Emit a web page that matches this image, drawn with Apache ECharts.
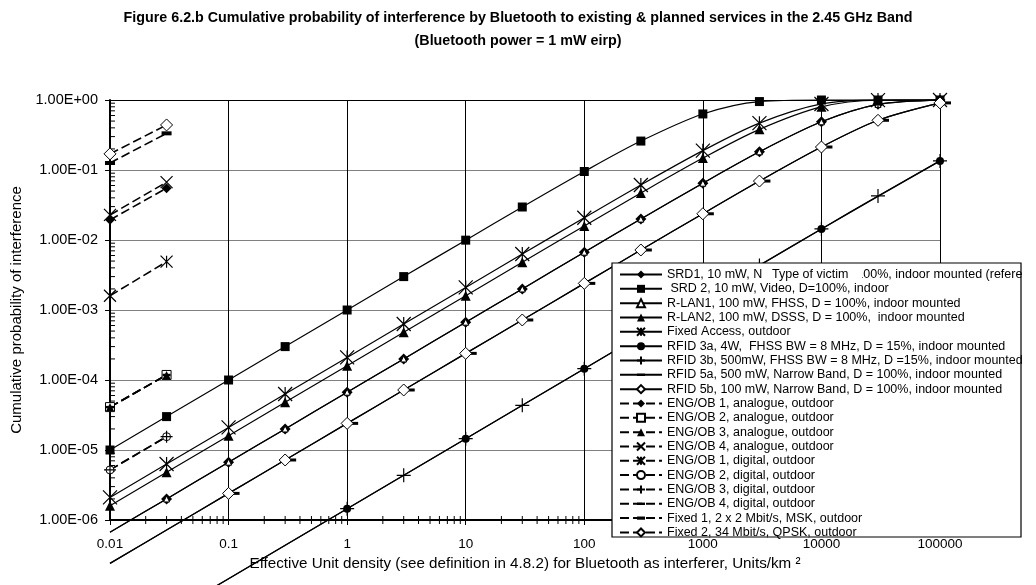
<!DOCTYPE html>
<html>
<head>
<meta charset="utf-8">
<script src="https://cdn.jsdelivr.net/npm/echarts@6/dist/echarts.min.js"></script>
<style>html,body{margin:0;padding:0;background:#fff}#c{width:1036px;height:585px}</style>
</head>
<body>
<div id="c"></div>
<script>
// ---------- data ----------
const titleLine1 = 'Figure 6.2.b Cumulative probability of interference by Bluetooth to existing & planned services in the 2.45 GHz Band';
const titleLine2 = '(Bluetooth power = 1 mW eirp)';
const xAxisName = 'Effective Unit density (see definition in 4.8.2) for Bluetooth as interferer, Units/km \u00B2';
const yAxisName = 'Cumulative probability of interference';
const legendTitle = 'Type of victim';

const xTickLabels = ['0.01', '0.1', '1', '10', '100', '1000', '10000', '100000'];
const yTickLabels = ['1.00E-06', '1.00E-05', '1.00E-04', '1.00E-03', '1.00E-02', '1.00E-01', '1.00E+00'];

const xValues = [0.01, 0.03, 0.1, 0.3, 1, 3, 10, 30, 100, 300, 1000, 3000, 10000, 30000, 100000];
const xDecades = [0.01, 0.1, 1, 10, 100, 1000, 10000, 100000];
const xEng = [0.01, 0.03];

const srd1 = [6.7e-7, 2.0e-6, 6.7e-6, 2.0e-5, 6.7e-5, 2.0e-4, 6.7e-4, 2.0e-3, 6.7e-3, 0.0199, 0.0648, 0.182, 0.488, 0.866, 0.999];
const srd2 = [1.0e-5, 3.0e-5, 1.0e-4, 3.0e-4, 1.0e-3, 3.0e-3, 0.00995, 0.0296, 0.0952, 0.259, 0.632, 0.950, 0.9999, 1.0, 1.0];
const rlan1 = [6.7e-7, 2.0e-6, 6.7e-6, 2.0e-5, 6.7e-5, 2.0e-4, 6.7e-4, 2.0e-3, 6.7e-3, 0.0199, 0.0648, 0.182, 0.488, 0.866, 0.999];
const rlan2 = [1.6e-6, 4.8e-6, 1.6e-5, 4.8e-5, 1.6e-4, 4.8e-4, 1.6e-3, 4.8e-3, 0.0159, 0.0469, 0.148, 0.381, 0.798, 0.992, 1.0];
const fixedAccess = [2.1e-6, 6.3e-6, 2.1e-5, 6.3e-5, 2.1e-4, 6.3e-4, 2.1e-3, 6.3e-3, 0.0208, 0.0611, 0.189, 0.467, 0.878, 0.998, 1.0];
const rfid3a = [1.45e-8, 1.45e-7, 1.45e-6, 1.45e-5, 1.45e-4, 1.45e-3, 0.0144, 0.135];
const rfid3b = [1.45e-8, 4.35e-8, 1.45e-7, 4.35e-7, 1.45e-6, 4.35e-6, 1.45e-5, 4.35e-5, 1.45e-4, 4.35e-4, 1.45e-3, 4.34e-3, 0.0144, 0.0426, 0.135];
const rfid5a = [2.4e-7, 7.2e-7, 2.4e-6, 7.2e-6, 2.4e-5, 7.2e-5, 2.4e-4, 7.2e-4, 2.4e-3, 7.2e-3, 0.0237, 0.0695, 0.213, 0.513, 0.909];
const rfid5b = [2.4e-7, 7.2e-7, 2.4e-6, 7.2e-6, 2.4e-5, 7.2e-5, 2.4e-4, 7.2e-4, 2.4e-3, 7.2e-3, 0.0237, 0.0695, 0.213, 0.513, 0.909];
const engob1a = [0.0194, 0.055];
const engob2a = [4.1e-5, 1.18e-4];
const engob3a = [4.1e-5, 1.18e-4];
const engob4a = [0.0228, 0.067];
const engob1d = [0.0016, 0.0049];
const engob2d = [5.2e-6, 1.55e-5];
const engob3d = [5.2e-6, 1.55e-5];
const engob4d = [4.1e-5, 1.18e-4];
const fixed1 = [0.126, 0.334];
const fixed2 = [0.17, 0.44];

const seriesNames = [
  'SRD1, 10 mW, Narrow Band, D = 100%, indoor mounted (reference)',
  ' SRD 2, 10 mW, Video, D=100%, indoor',
  'R-LAN1, 100 mW, FHSS, D = 100%, indoor mounted',
  'R-LAN2, 100 mW, DSSS, D = 100%,  indoor mounted',
  'Fixed Access, outdoor',
  'RFID 3a, 4W,  FHSS BW = 8 MHz, D = 15%, indoor mounted',
  'RFID 3b, 500mW, FHSS BW = 8 MHz, D =15%, indoor mounted',
  'RFID 5a, 500 mW, Narrow Band, D = 100%, indoor mounted',
  'RFID 5b, 100 mW, Narrow Band, D = 100%, indoor mounted',
  'ENG/OB 1, analogue, outdoor',
  'ENG/OB 2, analogue, outdoor',
  'ENG/OB 3, analogue, outdoor',
  'ENG/OB 4, analogue, outdoor',
  'ENG/OB 1, digital, outdoor',
  'ENG/OB 2, digital, outdoor',
  'ENG/OB 3, digital, outdoor',
  'ENG/OB 4, digital, outdoor',
  'Fixed 1, 2 x 2 Mbit/s, MSK, outdoor',
  'Fixed 2, 34 Mbit/s, QPSK, outdoor'
];

// ---------- chart ----------
const X_MIN = 0.01, X_MAX = 100000, Y_MIN = 1e-6, Y_MAX = 1;
const FONT = "'Liberation Sans', Arial, sans-serif";

const SYM = {
  asterisk: 'path://M0 0L10 10M10 0L0 10M5 0L5 10',
  plus: 'path://M5 0L5 10M0 5L10 5',
  cross: 'path://M0 0L10 10M10 0L0 10',
  dash: 'path://M0 0M0 3.5L10 3.5L10 6.5L0 6.5ZM10 10',
  bar: 'path://M0 0M0 3L10 3L10 7L0 7ZM10 10'
};

function pts(xs, ys) {
  return xs.map((x, i) => ys[i] < Y_MIN ? { value: [x, ys[i]], symbol: 'none' } : [x, ys[i]]);
}

function mk(idx, xs, ys, sym, size, opts) {
  opts = opts || {};
  const dashed = !!opts.dashed;
  return {
    type: 'line',
    name: seriesNames[idx],
    data: pts(xs, ys),
    symbol: sym,
    symbolSize: size,
    symbolOffset: opts.offset || [0, 0],
    showAllSymbol: true,
    clip: false,
    smooth: dashed ? false : 0.3,
    z: 2,
    lineStyle: { color: '#000', width: dashed ? 1.6 : 1.2, type: dashed ? [9, 4] : 'solid' },
    itemStyle: {
      color: opts.open ? '#fff' : '#000',
      borderColor: '#000',
      borderWidth: opts.bw != null ? opts.bw : (opts.open ? 1 : 0)
    },
    emphasis: { disabled: true },
    animation: false
  };
}

const series = [
  mk(0, xValues, srd1, 'diamond', 11),
  mk(1, xValues, srd2, 'rect', 9),
  mk(2, xValues, rlan1, 'triangle', 6, { open: true }),
  mk(3, xValues, rlan2, 'triangle', 10),
  mk(4, xValues, fixedAccess, SYM.asterisk, 14, { bw: 1.2 }),
  mk(5, xDecades, rfid3a, 'circle', 8),
  mk(6, xValues, rfid3b, SYM.plus, 14, { bw: 1.2 }),
  mk(7, xValues, rfid5a, SYM.dash, 10, { offset: [6, 0] }),
  mk(8, xValues, rfid5b, 'diamond', 12, { open: true }),
  mk(9, xEng, engob1a, 'diamond', 10, { dashed: true }),
  mk(10, xEng, engob2a, 'rect', 9, { dashed: true, open: true }),
  mk(11, xEng, engob3a, 'triangle', 8, { dashed: true }),
  mk(12, xEng, engob4a, SYM.cross, 12, { dashed: true, bw: 1.2 }),
  mk(13, xEng, engob1d, SYM.asterisk, 12, { dashed: true, bw: 1.2 }),
  mk(14, xEng, engob2d, 'circle', 8, { dashed: true, open: true }),
  mk(15, xEng, engob3d, SYM.plus, 12, { dashed: true, bw: 1.2 }),
  mk(16, xEng, engob4d, SYM.dash, 8, { dashed: true }),
  mk(17, xEng, fixed1, SYM.bar, 10, { dashed: true }),
  mk(18, xEng, fixed2, 'diamond', 12, { dashed: true, open: true })
];

// minor ticks (axis furniture) at 2..9 x each decade
const minorTicks = [];
for (let k = -2; k <= 4; k++) for (let m = 2; m <= 9; m++) minorTicks.push([m * Math.pow(10, k), Y_MIN, 0]);
for (let k = -6; k <= -1; k++) for (let m = 2; m <= 9; m++) minorTicks.push([X_MIN, m * Math.pow(10, k), 1]);

series.push({
  type: 'custom',
  name: '_ticks',
  coordinateSystem: 'cartesian2d',
  silent: true,
  clip: false,
  z: 1,
  data: minorTicks,
  renderItem: function (params, api) {
    const p = api.coord([api.value(0), api.value(1)]);
    if (api.value(2) === 0) {
      return { type: 'line', shape: { x1: p[0], y1: p[1] - 4, x2: p[0], y2: p[1] + 4 }, style: { stroke: '#000', lineWidth: 1 } };
    }
    return { type: 'line', shape: { x1: p[0], y1: p[1], x2: p[0] + 5, y2: p[1] }, style: { stroke: '#000', lineWidth: 1 } };
  },
  animation: false
});

const chart = echarts.init(document.getElementById('c'), null, { renderer: 'canvas' });
chart.setOption({
  animation: false,
  backgroundColor: '#fff',
  textStyle: { fontFamily: FONT, color: '#000' },
  title: {
    text: titleLine1 + '\n' + titleLine2,
    left: 'center',
    top: 2,
    textStyle: { fontFamily: FONT, fontSize: 14.3, fontWeight: 'bold', color: '#000', lineHeight: 23 }
  },
  grid: { left: 110, right: 96, top: 100, bottom: 65 },
  xAxis: [{
    type: 'log', logBase: 10, min: X_MIN, max: X_MAX, splitNumber: 7,
    name: xAxisName, nameLocation: 'middle', nameGap: 35,
    nameTextStyle: { fontFamily: FONT, fontSize: 15.2, color: '#000' },
    axisLine: { show: true, lineStyle: { color: '#000', width: 2 } },
    axisTick: { show: true, length: 5, lineStyle: { color: '#000', width: 1 } },
    axisLabel: {
      fontFamily: FONT, fontSize: 13.5, color: '#000', margin: 17,
      formatter: function (v) { return xTickLabels[Math.round(Math.log10(v)) + 2]; }
    },
    splitLine: { show: true, lineStyle: { color: '#000', width: 1 } }
  }, {
    type: 'log', logBase: 10, min: X_MIN, max: X_MAX, position: 'top',
    axisLine: { show: true, lineStyle: { color: '#000', width: 1.2 } },
    axisTick: { show: false }, axisLabel: { show: false }, splitLine: { show: false }
  }],
  yAxis: {
    type: 'log', logBase: 10, min: Y_MIN, max: Y_MAX, splitNumber: 6,
    name: yAxisName, nameLocation: 'middle', nameGap: 86,
    nameTextStyle: { fontFamily: FONT, fontSize: 15, color: '#000' },
    axisLine: { show: true, lineStyle: { color: '#000', width: 2 } },
    axisTick: { show: true, length: 5, lineStyle: { color: '#000', width: 1 } },
    axisLabel: {
      fontFamily: FONT, fontSize: 14.5, color: '#000', margin: 12,
      formatter: function (v) { return yTickLabels[Math.round(Math.log10(v)) + 6]; }
    },
    splitLine: { show: true, lineStyle: { color: '#808080', width: 1 } }
  },
  legend: {
    data: seriesNames,
    orient: 'vertical',
    left: 619, top: 268,
    padding: 0,
    itemWidth: 42, itemHeight: 10, itemGap: 1.33,
    selectedMode: false,
    textStyle: { fontFamily: FONT, fontSize: 12.5, lineHeight: 12, color: '#000' },
    z: 4
  },
  graphic: [
    { type: 'rect', z: 3, shape: { x: 612, y: 263, width: 409, height: 274 },
      style: { fill: '#fff', stroke: '#000', lineWidth: 1.2 } },
    { type: 'rect', z: 10, shape: { x: 1022, y: 262, width: 20, height: 22 }, style: { fill: '#fff' } },
    { type: 'rect', z: 10, shape: { x: 762, y: 266, width: 100, height: 16 }, style: { fill: '#fff' } },
    { type: 'text', z: 11, x: 772, y: 268,
      style: { text: legendTitle, fill: '#000', font: "12.5px 'Liberation Sans', Arial, sans-serif" } }
  ],
  series: series
});
</script>
</body>
</html>
